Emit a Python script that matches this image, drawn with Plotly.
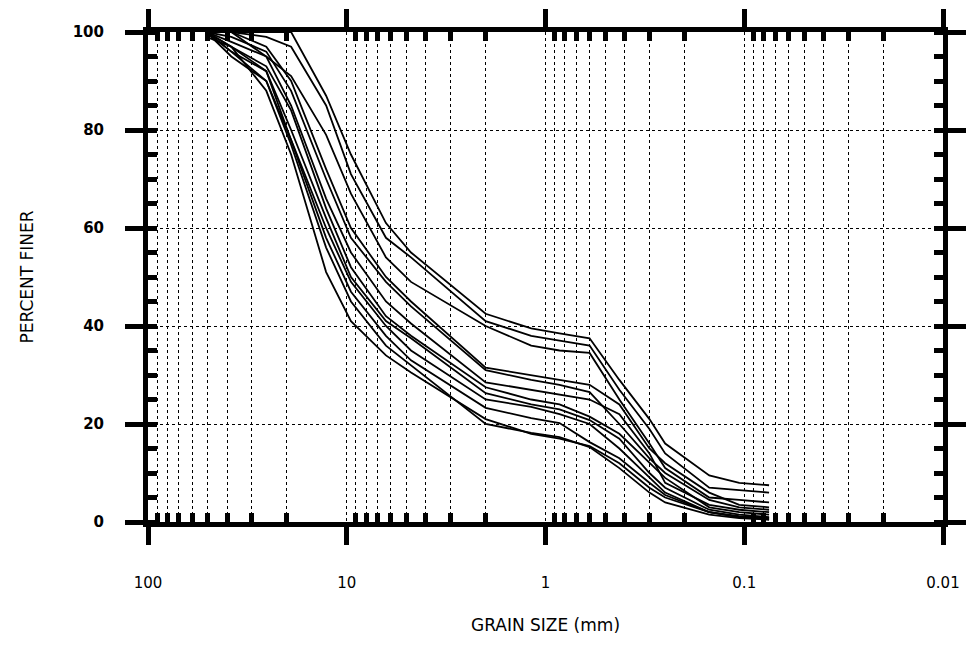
import plotly.graph_objects as go

# Sieve openings (mm)
sieve_mm = [50.8, 38.1, 25.4, 19.05, 12.7, 9.525, 6.35, 4.75, 2.0, 1.18, 0.85,
            0.6, 0.425, 0.3, 0.25, 0.15, 0.106, 0.075]

# Percent finer for each sample
h1 = [100, 100, 100, 100, 87, 75, 61, 55, 42.5, 39.5, 38.5, 37.5, 29, 21, 16, 9.5, 8, 7.5]
h2 = [100, 100, 99, 97, 85, 71, 58, 54, 41, 38, 37, 36, 27, 19, 14, 7, 6.5, 6]
h3 = [100, 98, 95, 91, 79, 67, 54, 49, 40, 36, 35, 34.5, 25, 16, 11, 5, 4.5, 4]
m1 = [100, 100, 97, 90, 72, 60, 50, 45, 31.5, 30, 29, 28, 24, 15, 12, 6, 3.5, 3]
m2 = [100, 99, 96, 88, 70, 58, 49, 44, 31, 29, 28, 26.5, 20, 13, 10, 4.5, 3, 2.5]
m3 = [100, 100, 95, 85, 66, 55, 45, 40.5, 28.5, 27, 26, 25, 22, 14, 8, 3.5, 2.5, 2]
m4 = [100, 97, 93, 84, 64, 52, 42, 38, 27.5, 25, 24, 21.5, 18, 12, 9, 3, 2, 1.5]
m5 = [99, 97, 92, 80, 62, 50, 41, 37.5, 26.3, 24, 23, 20.8, 17, 10, 7, 2.5, 1.5, 1]
m6 = [100, 96, 90, 78, 60, 49, 40, 35, 25, 23.5, 22, 20, 15, 9, 6, 2, 1.2, 0.8]
l1 = [100, 97, 88, 75, 51, 41, 34, 30.5, 21, 18, 17, 15.5, 12, 7, 5, 2, 1, 0.5]
l2 = [100, 96, 92, 78, 58, 47, 38, 33, 23.3, 21.2, 20.2, 16.3, 13, 8, 5.5, 2, 1, 0.8]
l3 = [100, 95, 90, 77, 56, 45, 36, 32, 20, 18.2, 17.3, 15.3, 11, 6, 4, 1.5, 0.8, 0.5]

samples = [h1, h2, h3, m1, m2, m3, m4, m5, m6, l1, l2, l3]

x_minor = [d * 10 ** e for e in range(-2, 2) for d in range(2, 10)]

fig = go.Figure()
for s in samples:
    fig.add_trace(go.Scatter(x=sieve_mm, y=s, mode="lines",
                             line=dict(color="black", width=1.8),
                             showlegend=False, hoverinfo="skip"))

font_family = "DejaVu Sans, Liberation Sans, Arial, sans-serif"

fig.update_layout(
    width=966, height=645,
    margin=dict(l=148, r=23, t=32, b=123),
    paper_bgcolor="white", plot_bgcolor="white",
    font=dict(family=font_family, color="black"),
    xaxis=dict(
        type="log", range=[2, -2], dtick=1, automargin=False,
        showline=True, linecolor="black", linewidth=5, mirror="ticks",
        ticks="outside", ticklen=18, tickwidth=5, tickcolor="black",
        showgrid=True, gridcolor="black", gridwidth=1, griddash="dot",
        tickfont=dict(size=15), ticklabelstandoff=25,
        minor=dict(tickmode="array", tickvals=x_minor, ticks="inside",
                   ticklen=9, tickwidth=5, tickcolor="black",
                   showgrid=True, gridcolor="black", gridwidth=1, griddash="dot"),
        title=dict(text="GRAIN SIZE (mm)", font=dict(size=17), standoff=30),
        zeroline=False,
    ),
    yaxis=dict(
        range=[0, 100], dtick=20, automargin=False,
        showline=True, linecolor="black", linewidth=5, mirror="ticks",
        ticks="outside", ticklen=18, tickwidth=5, tickcolor="black",
        showgrid=True, gridcolor="black", gridwidth=1, griddash="dot",
        tickfont=dict(size=15, weight="bold"), ticklabelstandoff=18,
        minor=dict(dtick=5, ticks="inside", ticklen=9, tickwidth=5,
                   tickcolor="black", showgrid=False),
        title=dict(text="PERCENT FINER", font=dict(size=17), standoff=36),
        zeroline=False,
    ),
    xaxis2=dict(
        type="log", range=[2, -2], dtick=1, overlaying="x", anchor="y",
        side="bottom", showticklabels=False, showgrid=False, showline=False,
        ticks="inside", ticklen=18, tickwidth=5, tickcolor="black",
        mirror="ticks", zeroline=False, automargin=False,
    ),
    yaxis2=dict(
        range=[0, 100], dtick=20, overlaying="y", anchor="x", side="left",
        showticklabels=False, showgrid=False, showline=False,
        ticks="inside", ticklen=18, tickwidth=5, tickcolor="black",
        mirror="ticks", zeroline=False, automargin=False,
    ),
)

fig.write_html("out.html")
